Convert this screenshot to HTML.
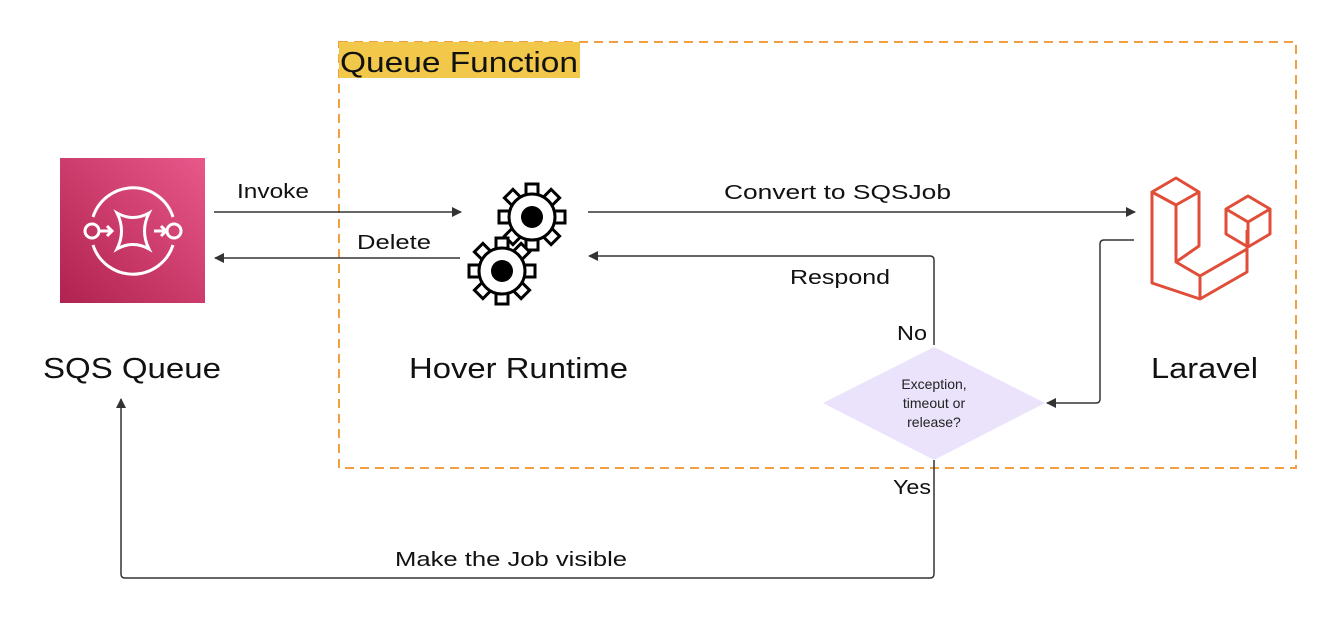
<!DOCTYPE html>
<html><head><meta charset="utf-8"><style>
html,body{margin:0;padding:0;background:#fff;}
svg{display:block;font-family:"Liberation Sans",sans-serif;}
</style></head><body>
<svg width="1332" height="622" viewBox="0 0 1332 622" xmlns="http://www.w3.org/2000/svg">
<defs>
<linearGradient id="g" x1="0" y1="1" x2="1" y2="0">
<stop offset="0" stop-color="#b0224f"/><stop offset="1" stop-color="#e8588a"/>
</linearGradient>
<marker id="a" markerWidth="10" markerHeight="10" refX="9" refY="5" orient="auto" markerUnits="userSpaceOnUse">
<path d="M0,0 L10,5 L0,10 z" fill="#333"/></marker>
<g id="gear">
<g fill="#fff" stroke="#000" stroke-width="3">
<rect x="-6" y="-33" width="12" height="14" transform="rotate(0)"/>
<rect x="-6" y="-33" width="12" height="14" transform="rotate(45)"/>
<rect x="-6" y="-33" width="12" height="14" transform="rotate(90)"/>
<rect x="-6" y="-33" width="12" height="14" transform="rotate(135)"/>
<rect x="-6" y="-33" width="12" height="14" transform="rotate(180)"/>
<rect x="-6" y="-33" width="12" height="14" transform="rotate(225)"/>
<rect x="-6" y="-33" width="12" height="14" transform="rotate(270)"/>
<rect x="-6" y="-33" width="12" height="14" transform="rotate(315)"/>
</g>
<circle r="23" fill="#fff" stroke="#000" stroke-width="3"/>
<circle r="11" fill="#000"/>
</g>
</defs>

<rect x="339" y="42" width="957" height="426" fill="none" stroke="#f0a040" stroke-width="2" stroke-dasharray="9,6"/>
<rect x="339" y="42" width="241" height="36" fill="#f2c84b"/>
<text x="340" y="72" font-size="29" fill="#111" textLength="238" lengthAdjust="spacingAndGlyphs">Queue Function</text>

<rect x="60" y="158" width="145" height="145" fill="url(#g)"/>
<g fill="none" stroke="#fff" stroke-width="3">
<path d="M93,217 A42,42 0 0 1 173,217"/>
<path d="M93,245 A42,42 0 0 0 173,245"/>
<circle cx="92" cy="231" r="7"/>
<circle cx="174" cy="231" r="7"/>
<path d="M117,213 Q133,222 149,213 Q140,231 149,249 Q133,240 117,249 Q126,231 117,213 z"/>
<path d="M100,231 H112 M107,226 L112,231 L107,236"/>
<path d="M154,231 H166 M161,226 L166,231 L161,236"/>
</g>
<text x="43" y="378" font-size="29" fill="#111" textLength="178" lengthAdjust="spacingAndGlyphs">SQS Queue</text>

<use href="#gear" x="532" y="217"/>
<use href="#gear" x="502" y="271"/>
<text x="409" y="378" font-size="29" fill="#111" textLength="219" lengthAdjust="spacingAndGlyphs">Hover Runtime</text>

<g fill="none" stroke="#e04e39" stroke-width="3" stroke-linejoin="round">
<path d="M1152,192 L1176,178 L1199,192 L1176,205 Z"/>
<path d="M1152,192 V283 L1200,299 L1247,272 V230"/>
<path d="M1176,205 V262 L1200,276 V299"/>
<path d="M1199,192 V246 L1176,262"/>
<path d="M1200,276 L1247,249"/>
<path d="M1226,209 L1248,196 L1270,209 L1248,222 Z"/>
<path d="M1226,209 V234 L1248,247 L1270,234 V209"/>
<path d="M1248,222 V247"/>
</g>
<text x="1151" y="378" font-size="29" fill="#111" textLength="107" lengthAdjust="spacingAndGlyphs">Laravel</text>

<g stroke="#333" stroke-width="1.5" fill="none">
<path d="M214,212 H461" marker-end="url(#a)"/>
<path d="M460,258 H215" marker-end="url(#a)"/>
<path d="M588,212 H1135" marker-end="url(#a)"/>
<path d="M934,345 V260 Q934,256 930,256 H589" marker-end="url(#a)"/>
<path d="M1134,240 H1104 Q1100,240 1100,244 V399 Q1100,403 1096,403 H1047" marker-end="url(#a)"/>
<path d="M934,460 V574 Q934,578 930,578 H125 Q121,578 121,574 V399" marker-end="url(#a)"/>
</g>
<text x="237" y="198" font-size="20" fill="#111" textLength="72" lengthAdjust="spacingAndGlyphs">Invoke</text>
<text x="357" y="249" font-size="20" fill="#111" textLength="74" lengthAdjust="spacingAndGlyphs">Delete</text>
<text x="724" y="199" font-size="20" fill="#111" textLength="227" lengthAdjust="spacingAndGlyphs">Convert to SQSJob</text>
<text x="790" y="284" font-size="20" fill="#111" textLength="100" lengthAdjust="spacingAndGlyphs">Respond</text>
<text x="897" y="340" font-size="20" fill="#111" textLength="30" lengthAdjust="spacingAndGlyphs">No</text>
<text x="893" y="494" font-size="20" fill="#111" textLength="38" lengthAdjust="spacingAndGlyphs">Yes</text>
<text x="395" y="566" font-size="20" fill="#111" textLength="232" lengthAdjust="spacingAndGlyphs">Make the Job visible</text>

<path d="M934,347 L1045,403 L934,460 L823,403 Z" fill="#ebe3fb"/>
<text x="934" y="389" font-size="14" text-anchor="middle" fill="#222">Exception,</text>
<text x="934" y="408" font-size="14" text-anchor="middle" fill="#222">timeout or</text>
<text x="934" y="427" font-size="14" text-anchor="middle" fill="#222">release?</text>
</svg>
</body></html>
